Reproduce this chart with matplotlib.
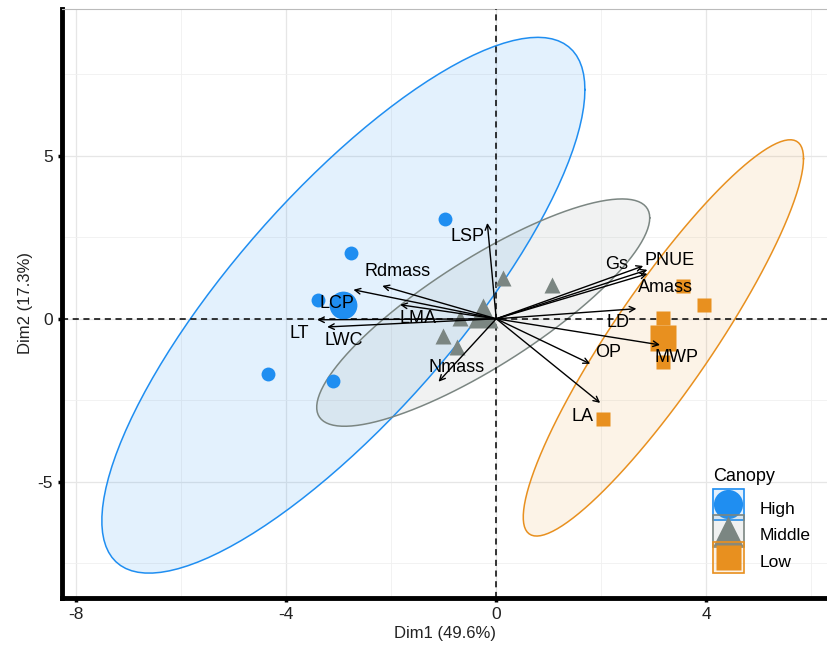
import numpy as np
import matplotlib.pyplot as plt
from matplotlib.patches import Rectangle
from matplotlib.lines import Line2D

plt.rcParams['font.family'] = ['Liberation Sans', 'DejaVu Sans']
plt.rcParams['axes.unicode_minus'] = False

# individuals (PCA scores) per canopy group
high_x = [-0.97, -2.76, -3.39, -4.34, -3.10]
high_y = [3.07, 2.02, 0.58, -1.69, -1.90]
mid_x = [0.13, 1.07, -0.69, -1.01, -0.74]
mid_y = [1.26, 1.04, 0.03, -0.52, -0.86]
low_x = [3.56, 3.96, 3.18, 3.18, 2.04]
low_y = [1.00, 0.43, 0.03, -1.32, -3.07]

# variable arrows (scaled loadings)
var_names = ['LSP', 'Rdmass', 'LCP', 'LMA', 'LT', 'LWC', 'Nmass',
             'Gs', 'PNUE', 'Amass', 'LD', 'MWP', 'OP', 'LA']
var_x = [-0.17, -2.17, -2.72, -1.83, -3.41, -3.22, -1.10,
         2.80, 2.88, 2.88, 2.67, 3.12, 1.79, 1.98]
var_y = [2.94, 1.01, 0.89, 0.43, -0.03, -0.25, -1.93,
         1.62, 1.50, 1.38, 0.31, -0.80, -1.38, -2.58]

groups = ['High', 'Middle', 'Low']
colors = {'High': '#1f8ef1', 'Middle': '#7b8682', 'Low': '#e8901f'}
fills = {'High': '#1f8ef1', 'Middle': '#8e9a96', 'Low': '#e8a040'}
markers = {'High': 'o', 'Middle': '^', 'Low': 's'}
msize = {'High': 10, 'Middle': 11, 'Low': 9.5}
data = {'High': (high_x, high_y), 'Middle': (mid_x, mid_y), 'Low': (low_x, low_y)}

# label offsets in points (label placement only)
lab_off = {'LSP': (-14, -10), 'Rdmass': (11, 10), 'LCP': (-12, -10), 'LMA': (13, -10),
           'LT': (-13, -10), 'LWC': (12, -10), 'Nmass': (13, 10), 'Gs': (-19, 1),
           'PNUE': (16, 7), 'Amass': (13, -10), 'LD': (-13, -10), 'MWP': (12, -9),
           'OP': (13, 8), 'LA': (-13, -10)}


def norm_ellipse(x, y, level=0.95, npts=120):
    # same as ggplot2 stat_ellipse(type = "norm")
    pts = np.column_stack([x, y])
    n = len(pts)
    center = pts.mean(axis=0)
    shape = np.cov(pts, rowvar=False)
    R = np.linalg.cholesky(shape).T
    d = n - 1
    qf = d / 2 * ((1 - level) ** (-2 / d) - 1)   # F quantile for dfn = 2
    radius = np.sqrt(2 * qf)
    t = np.linspace(0, 2 * np.pi, npts)
    circ = np.column_stack([np.cos(t), np.sin(t)])
    return center + radius * circ @ R


class GroupKey:
    def __init__(self, g):
        self.g = g


class GroupKeyHandler:
    # ggplot-like key: tinted box with coloured border and a big marker
    def legend_artist(self, legend, orig_handle, fontsize, handlebox):
        g = orig_handle.g
        xd, yd = handlebox.xdescent, handlebox.ydescent
        w, h = handlebox.width, handlebox.height + yd
        x0, y0 = -xd, -yd
        tr = handlebox.get_transform()
        bg = Rectangle((x0, y0), w, h, facecolor=fills[g], alpha=0.13, lw=0, transform=tr)
        edge = Rectangle((x0 + 0.5, y0 + 0.5), w - 1, h - 1, facecolor='none',
                         edgecolor=colors[g], lw=1.2, transform=tr)
        mk = Line2D([x0 + w / 2], [y0 + h / 2], ls='none', marker=markers[g],
                    ms=21 if g != 'Low' else 18, color=colors[g], mec='none', transform=tr)
        for a in (bg, edge, mk):
            handlebox.add_artist(a)
        return edge


fig = plt.figure(figsize=(8.28, 6.45), dpi=100)
ax = fig.add_axes([0.075, 0.073, 0.925, 0.913])

for g in groups:
    ex = norm_ellipse(*data[g])
    ax.fill(ex[:, 0], ex[:, 1], color=fills[g], alpha=0.12, lw=0, zorder=1)
    ax.plot(ex[:, 0], ex[:, 1], color=colors[g], lw=1.1, zorder=2)

ax.axhline(0, color='black', ls=(0, (4, 3)), lw=1.1, zorder=3)
ax.axvline(0, color='black', ls=(0, (4, 3)), lw=1.1, zorder=3)

for g in groups:
    gx, gy = data[g]
    ax.plot(gx, gy, ls='none', marker=markers[g], ms=msize[g], color=colors[g],
            mec='none', zorder=4)
    ax.plot(np.mean(gx), np.mean(gy), ls='none', marker=markers[g], ms=msize[g] * 2.0,
            color=colors[g], mec='none', zorder=4)

for name, vx, vy in zip(var_names, var_x, var_y):
    ax.annotate('', xy=(vx, vy), xytext=(0, 0),
                arrowprops=dict(arrowstyle='->', color='black', lw=1.0,
                                shrinkA=0, shrinkB=0, mutation_scale=10), zorder=5)
    ax.annotate(name, xy=(vx, vy), xytext=lab_off[name], textcoords='offset points',
                ha='center', va='center', fontsize=13, color='black', zorder=6)

ax.set_xlim(-8.27, 6.32)
ax.set_ylim(-8.56, 9.5)
ax.set_xticks([-8, -4, 0, 4])
ax.set_xticks([-6, -2, 2, 6], minor=True)
ax.set_yticks([-5, 0, 5])
ax.set_yticks([-7.5, -2.5, 2.5, 7.5], minor=True)
ax.grid(True, which='major', color='#e6e6e6', lw=0.9, zorder=0)
ax.grid(True, which='minor', color='#f0f0f0', lw=0.6, zorder=0)
ax.set_axisbelow(True)
ax.tick_params(which='major', length=3, width=2.5, color='black', labelsize=12.5,
               labelcolor='#222222', direction='out')
ax.tick_params(which='minor', length=0)

for s in ['left', 'bottom']:
    ax.spines[s].set_linewidth(3.5)
    ax.spines[s].set_color('black')
ax.spines['top'].set_color('#bbbbbb')
ax.spines['top'].set_linewidth(0.8)
ax.spines['right'].set_visible(False)

ax.set_xlabel('Dim1 (49.6%)', fontsize=12, color='#222222', labelpad=3)
ax.set_ylabel('Dim2 (17.3%)', fontsize=12, color='#222222', labelpad=3)

leg = ax.legend([GroupKey(g) for g in groups], groups, loc='lower left',
                bbox_to_anchor=(0.833, 0.02), frameon=False, fontsize=12.5,
                handler_map={GroupKey: GroupKeyHandler()}, borderpad=0.2,
                handlelength=1.85, handleheight=1.9, labelspacing=0.05, handletextpad=0.9)

# legend title placed just above the keys
fig.canvas.draw()
bb = leg.get_window_extent().transformed(ax.transAxes.inverted())
ax.annotate('Canopy', xy=(bb.x0, bb.y1), xycoords='axes fraction', xytext=(3, 5),
            textcoords='offset points', ha='left', va='bottom', fontsize=13)

fig.savefig('out.png', dpi=100)
